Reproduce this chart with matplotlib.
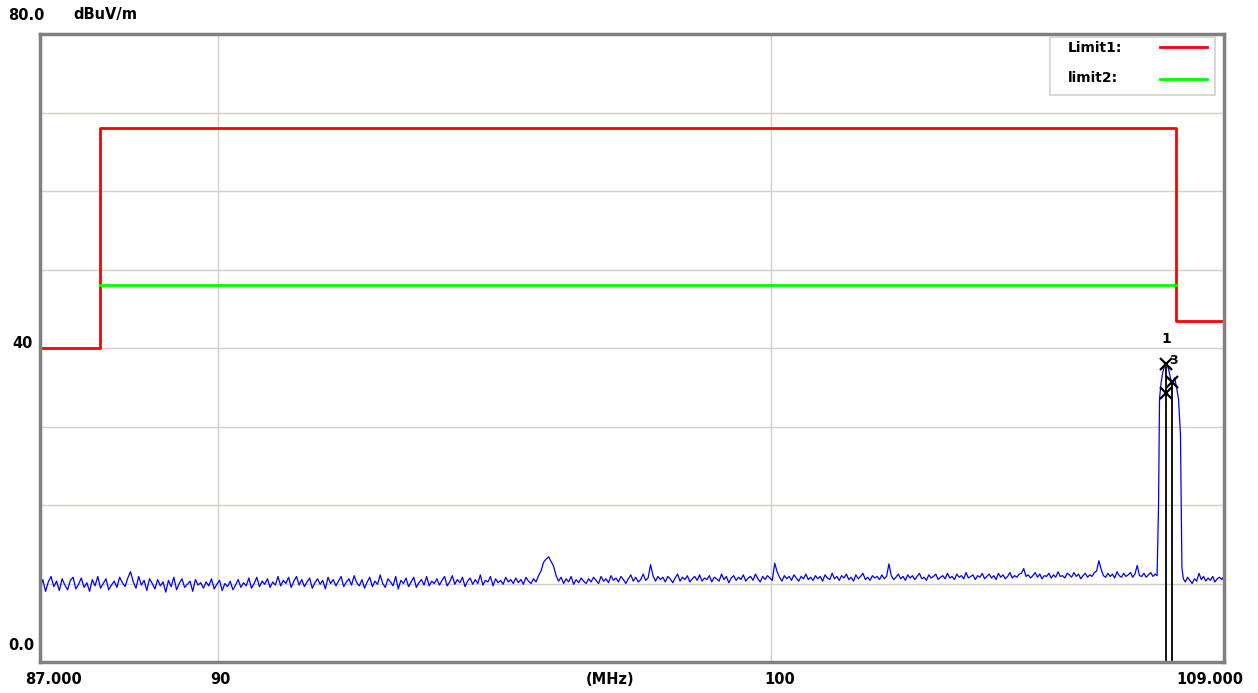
import numpy as np
import matplotlib.pyplot as plt

# limit lines (MHz, dBuV/m)
limit1_freq = [87.0, 88.0, 108.0, 109.0]
limit1_level = [40.0, 68.0, 43.5, 43.5]
limit2_freq = [88.0, 108.0]
limit2_level = [48.0, 48.0]

noise_level = [
    9.4, 10.5, 9.0, 10.2, 10.9, 9.6, 10.3, 9.1, 10.6, 9.8, 9.2, 10.4, 10.8, 9.3, 9.9, 10.7, 9.5, 10.1, 9.0, 10.5, 9.7, 10.9, 9.4, 10.0, 10.6, 9.2, 9.8, 10.3, 9.5, 10.8,
    10.1, 9.6, 10.7, 11.5, 10.2, 9.4, 10.9, 9.8, 10.4, 9.1, 10.6, 10.0, 9.3, 10.5, 9.7, 10.2, 8.9, 10.4, 9.6, 10.8, 9.2, 10.0, 10.6, 9.5, 9.9, 10.3, 9.0, 10.5, 9.8, 10.1,
    9.4, 10.2, 9.7, 10.6, 9.3, 9.9, 10.4, 9.1, 10.0, 9.6, 10.3, 9.2, 9.8, 10.5, 9.5, 10.1, 9.7, 10.7, 9.4, 10.0, 10.8, 9.6, 10.3, 9.9, 10.6, 9.5, 10.2, 9.8, 10.9, 9.7,
    10.4, 10.0, 10.8, 9.5, 10.3, 10.9, 9.8, 10.5, 9.6, 10.2, 10.7, 9.4, 10.1, 10.6, 9.9, 10.4, 9.3, 10.8, 10.0, 10.5, 9.7, 10.3, 10.9, 9.6, 10.2, 10.6, 9.8, 11.0, 10.1, 9.7,
    10.5, 9.4, 10.2, 10.8, 9.6, 10.3, 9.9, 11.1, 10.0, 9.5, 10.6, 10.2, 9.7, 10.9, 9.3, 10.4, 10.0, 10.7, 9.6, 10.2, 10.8, 9.5, 10.1, 10.5, 9.8, 10.9, 9.7, 10.3, 10.0, 10.6,
    9.8, 10.4, 10.9, 9.7, 10.2, 11.0, 9.9, 10.5, 10.1, 10.8, 9.6, 10.3, 10.7, 9.9, 10.5, 10.0, 11.1, 9.8, 10.4, 10.2, 10.9, 9.7, 10.6, 10.1, 10.4, 9.9, 10.8, 10.2, 10.5, 10.0,
    10.7, 10.1, 10.5, 9.9, 10.8, 10.3, 10.0, 10.6, 10.2, 11.0, 11.6, 12.7, 13.1, 13.4, 12.8, 12.2, 11.0, 10.3, 10.8, 10.0, 10.6, 10.2, 10.9, 9.9, 10.5, 10.1, 10.7, 10.3, 10.0, 10.6,
    10.2, 10.8, 10.4, 10.0, 10.9, 10.3, 10.6, 10.1, 11.0, 10.4, 10.7, 10.2, 10.9, 10.5, 10.0, 10.6, 11.1, 10.3, 10.8, 10.2, 10.5, 11.2, 10.4, 10.7, 12.4, 11.0, 10.3, 10.9, 10.5, 10.8,
    10.2, 10.9, 10.6, 10.1, 10.7, 11.2, 10.3, 10.8, 10.5, 11.0, 10.2, 10.6, 10.9, 10.4, 11.1, 10.3, 10.7, 10.5, 11.0, 10.2, 10.8, 10.6, 10.3, 11.2, 10.5, 10.9, 10.1, 10.7, 11.0, 10.4,
    10.8, 10.5, 11.1, 10.3, 10.7, 10.9, 10.4, 11.2, 10.6, 10.2, 10.9, 10.5, 11.0, 10.7, 10.4, 12.6, 11.5, 10.8, 10.3, 11.0, 10.6, 10.9, 10.4, 11.1, 10.7, 10.3, 10.9, 10.6, 11.2, 10.5,
    10.8, 10.4, 11.0, 10.6, 10.9, 10.3, 11.1, 10.7, 10.5, 11.3, 10.6, 10.9, 10.4, 11.0, 10.7, 11.2, 10.5, 10.8, 10.3, 11.1, 10.6, 10.9, 11.3, 10.5, 10.8, 10.4, 11.0, 10.7, 10.9, 10.5,
    11.1, 10.6, 10.9, 12.5, 11.0, 10.5, 10.8, 11.2, 10.6, 10.9, 10.4, 11.1, 10.7, 11.0, 10.5, 10.9, 11.3, 10.6, 10.8, 10.4, 11.1, 10.7, 10.9, 11.2, 10.5, 10.8, 11.0, 10.6, 11.3, 10.7,
    10.9, 10.5, 11.2, 10.8, 11.0, 10.6, 11.4, 10.7, 10.9, 11.1, 10.5, 11.0, 10.8, 11.3, 10.6, 10.9, 11.2, 10.7, 11.0, 10.5, 11.3, 10.8, 11.1, 10.6, 10.9, 11.4, 10.7, 11.0, 10.8, 11.2,
    11.3, 11.9, 10.9, 11.1, 10.7, 11.0, 11.4, 10.8, 11.2, 10.6, 11.0, 10.9, 11.3, 10.7, 11.1, 10.8, 11.5, 10.9, 11.0, 10.7, 11.3, 11.1, 10.8, 11.4, 10.9, 11.2, 10.6, 11.0, 11.3, 10.8,
    11.1, 10.9, 11.4, 11.6, 12.9, 11.8, 11.0, 10.8, 11.3, 10.9, 11.2, 10.7, 11.5, 11.0, 10.8, 11.3, 10.9, 11.1, 11.4, 10.8, 11.2, 12.3, 11.0, 10.9, 11.3, 10.8, 11.1, 11.4, 10.9, 11.2,
]
noise_freq = np.linspace(87.0, 107.58, len(noise_level))

peak_freq = [107.62, 107.65, 107.67, 107.70, 107.74, 107.78, 107.82, 107.86,
             107.90, 107.94, 107.98, 108.02, 108.06, 108.10, 108.13, 108.16]
peak_level = [11.0, 20.0, 33.5, 35.5, 37.0, 37.8, 38.0, 37.2,
              36.0, 35.6, 36.2, 35.0, 33.5, 29.0, 12.0, 10.6]

tail_level = [10.2, 10.8, 10.4, 10.0, 10.6, 10.3, 11.3, 10.5, 10.9,
              10.3, 10.7, 10.4, 10.9, 10.2, 10.6, 10.8, 10.5, 10.9]
tail_freq = np.linspace(108.2, 109.0, len(tail_level))

marker_freq = [107.81, 107.93, 107.81]
marker_level = [38.0, 35.7, 34.3]
marker_names = ["1", "3"]

trace_freq = np.concatenate([noise_freq, peak_freq, tail_freq])
trace_level = np.concatenate([noise_level, peak_level, tail_level])

W, H = 1258, 693
fig = plt.figure(figsize=(W / 100, H / 100), dpi=100)
ax = fig.add_axes([40 / W, 1 - 662 / H, 1184 / W, 628 / H])
ax.set_xscale('log')
ax.set_xlim(87, 109)
ax.set_ylim(0, 80)

grid_c = '#d4d0c8'
for y in range(10, 80, 10):
    ax.axhline(y, color=grid_c, lw=1, zorder=0)
for x in [90, 100]:
    ax.axvline(x, color=grid_c, lw=1, zorder=0)

ax.plot(limit1_freq, limit1_level, drawstyle='steps-post', color='#ff0000', lw=2)
ax.plot(limit2_freq, limit2_level, color='#00ff00', lw=2)
ax.plot(trace_freq, trace_level, color='#0000ff', lw=0.9)

# marker lines + crosses
ax.vlines([marker_freq[0], marker_freq[1]], 0, [marker_level[0], marker_level[1]],
          color='black', lw=1.3)
ax.plot(marker_freq, marker_level, 'x', color='black', ms=9, mew=1.6)
ax.text(marker_freq[0], 40.2, marker_names[0], ha='center', va='bottom',
        fontsize=10, fontweight='bold')
ax.text(107.95, 38.4, marker_names[1], ha='center', va='center',
        fontsize=9, fontweight='bold')

ax.set_xticks([])
ax.set_yticks([])
ax.minorticks_off()
ax.tick_params(which='both', length=0)
for s in ax.spines.values():
    s.set_color('#808080')
    s.set_linewidth(2.5)

# legend box
leg = plt.Rectangle((0.853, 0.903), 0.139, 0.092, transform=ax.transAxes,
                    facecolor='white', edgecolor=grid_c, lw=1.2, zorder=5)
ax.add_patch(leg)
ax.text(0.868, 0.978, "Limit1:", transform=ax.transAxes, fontsize=10,
        fontweight='bold', va='center', zorder=6)
ax.text(0.868, 0.930, "limit2:", transform=ax.transAxes, fontsize=10,
        fontweight='bold', va='center', zorder=6)
ax.plot([0.946, 0.986], [0.979, 0.979], transform=ax.transAxes, color='#ff0000', lw=2, zorder=6)
ax.plot([0.946, 0.986], [0.928, 0.928], transform=ax.transAxes, color='#00ff00', lw=2, zorder=6)


def ftext(x, y, s, ha='left'):
    fig.text(x / W, 1 - y / H, s, ha=ha, va='center', fontsize=10.5, fontweight='bold')


ftext(8, 15, "80.0")
ftext(73, 15, "dBuV/m")
ftext(12, 343, "40")
ftext(8, 646, "0.0")
ftext(53, 679, "87.000", ha='center')
ftext(220, 679, "90", ha='center')
ftext(610, 679, "(MHz)", ha='center')
ftext(780, 679, "100", ha='center')
ftext(1210, 679, "109.000", ha='center')

fig.savefig("out.png", dpi=100)
